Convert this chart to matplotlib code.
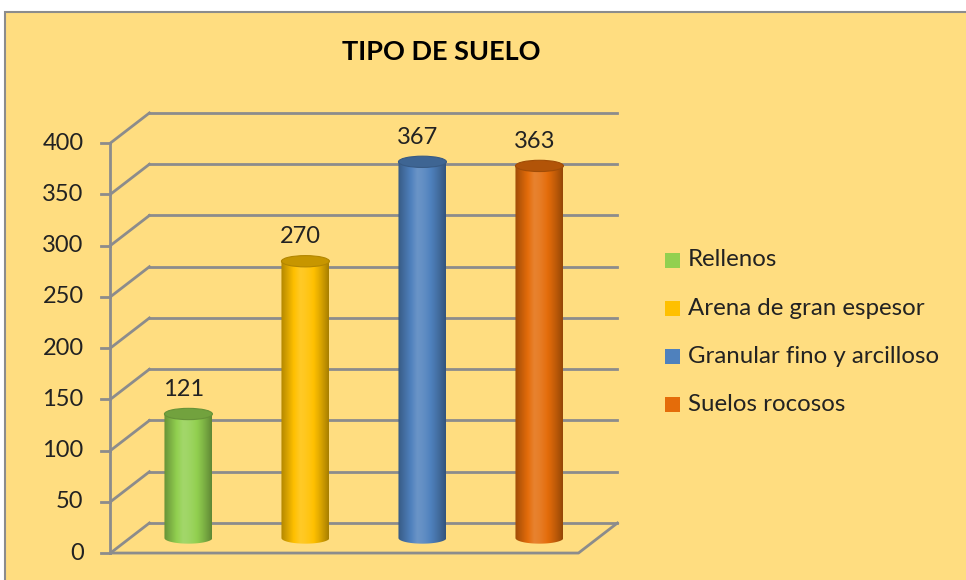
import numpy as np
import matplotlib
matplotlib.use("Agg")
import matplotlib.pyplot as plt
from matplotlib.patches import Ellipse, Rectangle, Polygon

plt.rcParams['font.family'] = ['Lato', 'DejaVu Sans']

# ── data ──
categories = ["Rellenos", "Arena de gran espesor", "Granular fino y arcilloso", "Suelos rocosos"]
values = [121, 270, 367, 363]
colors = ["#92D050", "#FFC000", "#4F81BD", "#E46C0A"]
y_ticks = [0, 50, 100, 150, 200, 250, 300, 350, 400]
title = "TIPO DE SUELO"

BG = "#FFDD80"
GRID = "#8C8C8C"

# depth offset of the back wall (category units, value units)
DX, DY = 0.333, 29.3
CYL_W = 0.41      # cylinder width in category units
ELL_H = 11.0      # ellipse height in value units

fig = plt.figure(figsize=(9.66, 5.80), dpi=100)
fig.patch.set_facecolor("white")

# chart area with grey border
fig.patches.append(Rectangle((5 / 966, -0.1), 1.2, (580 - 12) / 580 + 0.1,
                             transform=fig.transFigure, facecolor=BG,
                             edgecolor="#8C8C8C", linewidth=1.5, zorder=-5))

ax = fig.add_axes([0, 0, 1, 1], zorder=1)
ax.set_facecolor("none")
XLIM = (-1.444, 6.812)
YLIM = (-26.3, 539.5)
ax.axis("off")


def blend(c, k):
    rgb = np.array(matplotlib.colors.to_rgb(c))
    if k < 0:
        return rgb * (1 + k)
    return rgb + (1 - rgb) * k


# ── walls: back gridlines, side diagonals, floor ──
x0, x1 = -0.5, len(values) - 0.5
for v in y_ticks:
    ax.plot([x0 + DX, x1 + DX], [v + DY, v + DY], color=GRID, lw=2, zorder=1)
    ax.plot([x0, x0 + DX], [v, v + DY], color=GRID, lw=2, zorder=1)
    ax.plot([x0 - 0.077, x0], [v, v], color=GRID, lw=2, zorder=1)
    ax.text(x0 - 0.23, v, str(v), ha="right", va="center", fontsize=17,
            color="#222222")
ax.plot([x0, x0], [0, y_ticks[-1]], color=GRID, lw=2, zorder=1)
ax.plot([x0, x1, x1 + DX], [0, 0, DY], color=GRID, lw=2, zorder=1)

# ── cylinders ──
n = 200
t = np.linspace(0, 1, n)
shade = np.where(t < 0.4, -0.3 + 0.45 * (t / 0.4), 0.15 - 0.5 * ((t - 0.4) / 0.6) ** 1.6)
for i, (v, c) in enumerate(zip(values, colors)):
    cx = i + DX / 2
    base = DY / 2
    top = base + v
    left, right = cx - CYL_W / 2, cx + CYL_W / 2

    img = np.array([[blend(c, s) for s in shade]])
    im = ax.imshow(img, extent=[left, right, base - ELL_H / 2, top], aspect="auto",
                   interpolation="bilinear", zorder=3)
    # body outline: rectangle + bottom half ellipse
    theta = np.linspace(np.pi, 2 * np.pi, 60)
    bx = cx + CYL_W / 2 * np.cos(theta)
    by = base + ELL_H / 2 * np.sin(theta)
    verts = [(left, top)] + list(zip(bx, by)) + [(right, top), (left, top)]
    clip = Polygon(verts, closed=True, transform=ax.transData, facecolor="none",
                   edgecolor="none")
    ax.add_patch(clip)
    im.set_clip_path(clip)

    ax.add_patch(Ellipse((cx, top), CYL_W, ELL_H, facecolor=blend(c, -0.22),
                         edgecolor=blend(c, -0.3), lw=0.8, zorder=4))
    ax.text(cx - 0.04, top + 24, str(v), ha="center", va="center", fontsize=17,
            color="#222222", zorder=5)

ax.set_xlim(*XLIM)
ax.set_ylim(*YLIM)

# ── title ──
fig.text(441 / 966, 1 - 52 / 580, title, ha="center", va="center", fontsize=19.5,
         fontweight="bold", color="black")

# ── legend ──
for i, (name, c) in enumerate(zip(categories, colors)):
    yy = 1 - (260 + 48.3 * i) / 580
    fig.patches.append(Rectangle((665 / 966, yy - 7.5 / 580), 15 / 966, 15 / 580,
                                 transform=fig.transFigure, facecolor=c,
                                 edgecolor="none", zorder=2))
    fig.text(688 / 966, yy, name, ha="left", va="center", fontsize=17.3,
             color="#222222")

fig.savefig("out.png", dpi=100, facecolor=fig.get_facecolor())
